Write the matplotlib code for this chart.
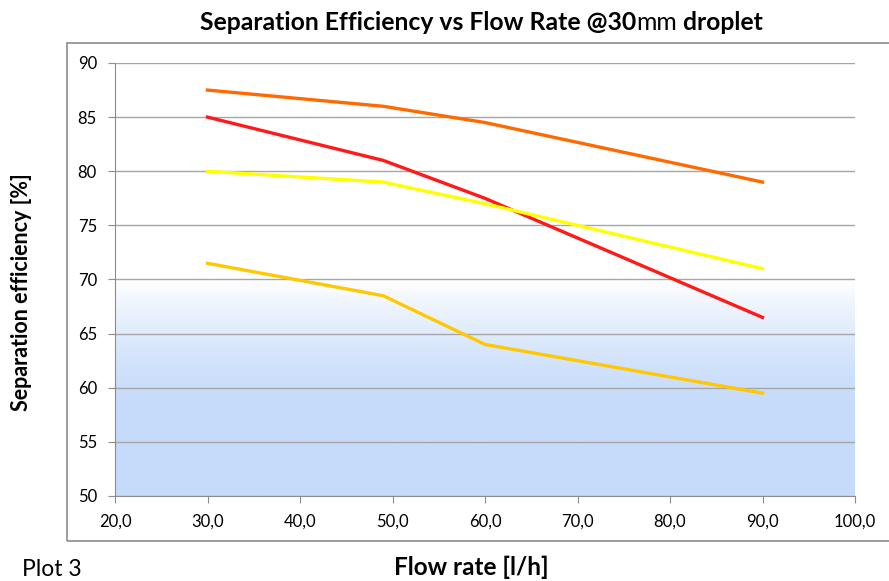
import numpy as np
import matplotlib.pyplot as plt
from matplotlib.patches import Rectangle
from matplotlib.ticker import FuncFormatter

plt.rcParams['font.family'] = ['Lato', 'DejaVu Sans']

# data
flow = [30, 49, 60, 90]
eff_orange = [87.5, 86.0, 84.5, 79.0]
eff_red = [85.0, 81.0, 77.5, 66.5]
eff_yellow = [80.0, 79.0, 77.0, 71.0]
eff_gold = [71.5, 68.5, 64.0, 59.5]
x_ticks = [20, 30, 40, 50, 60, 70, 80, 90, 100]
y_ticks = [50, 55, 60, 65, 70, 75, 80, 85, 90]

fig = plt.figure(figsize=(8.89, 5.81), dpi=100)
ax = fig.add_axes([115/889, 1-496/581, 740/889, 433/581])

# outer chart frame
fig.patches.append(Rectangle((67/889, 1-541/581), 830/889, 498/581,
                             transform=fig.transFigure, fill=False,
                             edgecolor='#8c8c8c', lw=1.2, zorder=0))

# gradient band below 70 (light blue low, fading to white at 70)
g = np.linspace(0, 1, 256)          # 0 at y=50 .. 1 at y=70
w = np.clip((g - 0.4) / 0.6, 0, 1) ** 1.5
c_top = np.array([1.0, 1.0, 1.0])
c_bot = np.array([198, 219, 250]) / 255
img = c_bot + (c_top - c_bot) * w[:, None]
ax.imshow(img.reshape(256, 1, 3), extent=[20, 100, 50, 70],
          origin='lower', aspect='auto', zorder=0)

ax.plot(flow, eff_orange, color='#FF6A00', lw=2.4, zorder=3)
ax.plot(flow, eff_red, color='#FF1A1A', lw=2.4, zorder=3)
ax.plot(flow, eff_yellow, color='#FFFF00', lw=2.4, zorder=3)
ax.plot(flow, eff_gold, color='#FFC800', lw=2.4, zorder=3)

ax.set_xlim(20, 100)
ax.set_ylim(50, 90)
ax.set_xticks(x_ticks)
ax.set_yticks(y_ticks)
ax.xaxis.set_major_formatter(FuncFormatter(lambda v, p: f'{v:.1f}'.replace('.', ',')))
ax.grid(axis='y', color='#a6a6a6', lw=1, zorder=1)
ax.set_axisbelow(True)
for s in ['top', 'right']:
    ax.spines[s].set_visible(False)
for s in ['left', 'bottom']:
    ax.spines[s].set_color('#8c8c8c')
ax.tick_params(axis='both', colors='#8c8c8c', labelcolor='black', labelsize=12, length=5)
ax.tick_params(axis='y', pad=8)
ax.tick_params(axis='x', pad=8)

# title with non-bold "mm"
fs_title = 17.8
t1 = fig.text(200/889, 1-34/581, 'Separation Efficiency vs Flow Rate @30', fontsize=fs_title,
              fontweight='bold', ha='left', va='bottom')
t2 = plt.annotate('mm', xy=(1, 0), xycoords=t1, fontsize=fs_title, ha='left', va='bottom')
t3 = plt.annotate(' droplet', xy=(1, 0), xycoords=t2, fontsize=fs_title, fontweight='bold',
                  ha='left', va='bottom')

fig.text(471/889, 1-567/581, 'Flow rate [l/h]', fontsize=17.5, fontweight='bold',
         ha='center', va='center')
fig.text(22/889, 1-292/581, 'Separation efficiency [%]', fontsize=15.5, fontweight='bold',
         ha='center', va='center', rotation=90)
fig.text(22/889, 1-570/581, 'Plot 3', fontsize=16.5, ha='left', va='center')

fig.savefig('out.png', dpi=100)
